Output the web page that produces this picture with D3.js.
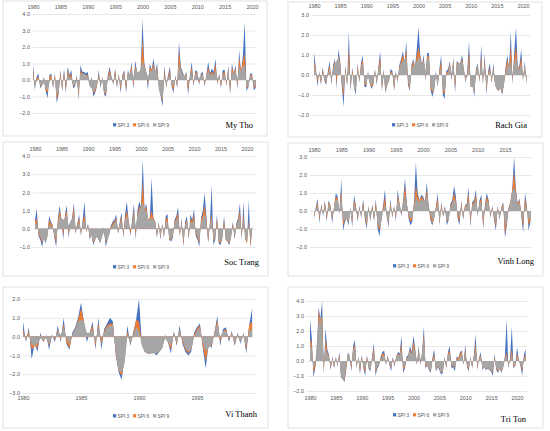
<!DOCTYPE html>
<html>
<head>
<meta charset="utf-8">
<script src="https://cdn.jsdelivr.net/npm/d3@7"></script>
<style>
  body { margin: 0; background: #fff; }
  svg { font-family: "Liberation Sans", Arial, sans-serif; }
</style>
</head>
<body>
<div id="chart"></div>
<script>
// series names and colours (Excel default palette)
const seriesNames = ["SPI 3", "SPI 6", "SPI 9"];
const seriesColors = ["#4472C4", "#ED7D31", "#A5A5A5"];

// values, one value every 4 months from Jan 1980
const myThoSpi3 = [1.0,-0.6,0.2, 0.4,-0.5,-0.3, 0.2,-0.7,-1.1, 0.3,0.4,-0.5, 0.4,-1.4,-0.9, 0.6,-0.7,0.7, -0.8,0.8,0.3, 0.6,-0.5,-0.4, 0.3,-1.2,0.9, 0.5,0.5,0.4,
  0.5,-0.3,0.2, -1.0,-0.8,-0.4, 0.6,-0.5,0.2, -0.9,-1.0,0.3, 0.8,0.2,-0.3, 0.7,-0.5,0.4, -0.8,0.3,0.6, -0.8,0.6,0.2, 1.1,-0.6,1.2, 0.5,0.3,0.6,
  3.7,1.0,0.5, -0.6,1.0,0.6, 1.3,0.5,1.0, -0.4,-1.0,-1.6, 0.9,-0.5,0.3, 0.8,-0.4,-0.8, 0.3,-0.5,2.3, 0.8,0.5,0.2, 0.5,-0.9,0.3, 1.1,-0.4,0.6,
  0.5,-0.3,0.4, 0.5,-0.4,0.3, 1.1,0.4,0.7, 0.5,1.3,-0.3, 0.4,-0.5,0.6, 0.6,-0.4,0.9, -0.9,1.0,0.4, 0.9,-0.6,1.8, 0.4,1.5,3.5, -0.7,-0.4,0.4, 0.4,-0.6,-0.5];
const myThoSpi6 = [0.6,-0.4,0.1, 0.2,-0.4,-0.3, 0.1,-0.6,-0.8, 0.2,0.3,-0.4, 0.3,-1.2,-0.8, 0.5,-0.6,0.5, -0.6,0.6,0.2, 0.4,-0.4,-0.3, 0.2,-1.0,0.6, 0.4,0.4,0.3,
  0.3,-0.3,0.1, -0.8,-0.7,-0.4, 0.4,-0.4,0.1, -0.8,-0.9,0.2, 0.6,0.2,-0.2, 0.6,-0.4,0.3, -0.6,0.2,0.5, -0.6,0.5,0.3, 0.9,-0.4,0.9, 0.5,0.4,0.6,
  2.5,0.9,0.5, -0.3,0.8,0.6, 1.0,0.5,0.8, -0.4,-0.9,-1.3, 0.6,-0.4,0.2, 0.6,-0.3,-0.6, 0.2,-0.4,1.8, 0.7,0.4,0.2, 0.4,-0.7,0.2, 0.8,-0.3,0.5,
  0.4,-0.2,0.3, 0.4,-0.3,0.2, 0.8,0.3,0.5, 0.4,1.0,-0.2, 0.3,-0.4,0.4, 0.5,-0.3,0.7, -0.7,0.8,0.4, 0.7,-0.4,1.4, 0.5,1.2,1.6, -0.5,-0.4,0.3, 0.3,-0.5,-0.4];
const myThoSpi9 = [0.3,-0.3,-0.1, 0.1,-0.3,-0.3, -0.2,-0.5,-0.6, -0.2,0.2,-0.3, 0.1,-1.0,-0.7, 0.2,-0.4,0.3, -0.3,0.4,0.1, 0.2,-0.3,-0.3, -0.1,-0.7,0.4, 0.4,0.4,0.3,
  0.2,-0.4,-0.5, -0.7,-0.6,-0.3, 0.2,-0.3,-0.1, -0.7,-0.8,0.1, 0.4,0.2,-0.1, 0.4,-0.3,0.2, -0.4,0.1,0.4, -0.3,0.4,0.4, 0.6,0.2,0.7, 0.5,0.5,0.6,
  1.2,0.8,0.5, 0.2,0.6,0.5, 0.8,0.6,0.6, -0.6,-1.0,-1.1, 0.3,-0.3,0.1, 0.4,-0.2,-0.4, 0.1,-0.3,1.0, 0.6,0.4,0.2, 0.3,-0.4,0.2, 0.5,-0.1,0.4,
  0.3,0.1,0.3, 0.3,-0.2,0.2, 0.5,0.3,0.4, 0.3,0.6,0.1, 0.2,-0.2,0.3, 0.3,-0.1,0.5, -0.4,0.5,0.4, 0.5,0.1,0.8, 0.5,0.8,0.9, -0.3,-0.5,0.2, 0.2,-0.4,-0.3];

const rachGiaSpi3 = [1.1,0.4,-0.6, 0.2,-0.5,0.4, -0.3,-0.5,0.2, 0.7,-0.5,0.5, 0.8,-0.7,1.3, 0.7,-0.6,-1.6, 0.5,-0.6,2.2, -0.8,0.4,-0.6, -1.0,0.6,-0.4, 0.6,1.0,-0.6,
  -0.6,0.2,-0.4, -0.7,-0.5,0.3, -0.5,0.4,1.2, -0.8,0.3,-0.9, -0.5,-0.3,0.3, 0.2,-0.8,0.2, -0.4,0.5,0.8, 1.2,0.6,1.7, -0.5,-0.8,0.5, 0.8,0.4,1.3,
  2.4,1.0,0.5, 1.0,-0.3,1.1, 1.1,-0.8,-1.1, -0.7,0.2,-0.6, 0.3,1.0,-1.0, -1.2,0.2,0.3, 0.7,-0.3,0.9, -0.9,0.7,0.6, 0.6,1.0,0.3, -0.4,0.2,1.7,
  -0.6,-0.4,-1.1, 0.3,0.6,-0.4, 1.5,-0.5,1.1, -1.0,0.2,0.6, -0.4,0.6,-0.5, -0.7,-0.8,-0.6, -1.0,-0.5,0.4, 1.0,0.3,2.2, -0.5,1.2,2.4, 0.3,0.5,1.3, -0.3,0.7,-0.5];
const rachGiaSpi6 = [0.7,0.3,-0.4, 0.1,-0.4,0.3, -0.3,-0.4,0.1, 0.5,-0.4,0.4, 0.7,-0.5,1.0, 0.6,-0.5,-1.1, 0.4,-0.5,1.4, -0.7,0.3,-0.5, -0.8,0.5,-0.3, 0.5,0.8,-0.5,
  -0.5,0.1,-0.4, -0.6,-0.5,0.2, -0.4,0.3,0.9, -0.7,0.2,-0.8, -0.5,-0.3,0.2, 0.1,-0.7,0.1, -0.3,0.4,0.7, 1.0,0.7,1.3, -0.4,-0.7,0.4, 0.7,0.4,1.0,
  1.4,0.9,0.5, 0.8,-0.2,1.0, 0.9,-0.7,-0.9, -0.7,0.1,-0.5, 0.2,0.7,-0.8, -1.0,0.1,0.2, 0.6,-0.2,0.8, -0.7,0.6,0.6, 0.6,0.8,0.3, -0.3,0.1,1.2,
  -0.6,-0.5,-0.9, 0.2,0.5,-0.3, 1.0,-0.4,0.8, -0.8,0.1,0.4, -0.4,0.4,-0.5, -0.7,-0.8,-0.6, -0.9,-0.5,0.3, 0.8,0.3,1.5, -0.3,0.9,1.4, 0.3,0.4,0.9, -0.2,0.5,-0.4];
const rachGiaSpi9 = [0.5,0.2,-0.2, 0.0,-0.3,0.1, -0.3,-0.3,0.0, 0.3,-0.3,0.3, 0.6,0.7,0.9, 0.5,-0.4,-0.8, 0.2,-0.4,0.7, -0.6,0.1,-0.7, -0.7,0.3,-0.2, 0.4,0.6,-0.4,
  -0.4,-0.1,-0.4, -0.5,-0.4,0.1, -0.3,0.2,0.6, -0.6,-0.1,-0.7, -0.5,-0.3,0.1, 0.1,-0.6,0.1, -0.2,0.3,0.6, 0.7,0.8,0.9, -0.3,-0.6,0.3, 0.5,0.5,0.7,
  0.9,0.8,0.5, 0.7,0.2,0.9, 0.7,-0.5,-0.8, -0.7,-0.1,-0.5, 0.1,0.4,-0.7, -0.8,0.0,0.1, 0.5,0.1,0.7, -0.5,0.5,0.6, 0.6,0.7,0.3, -0.2,-0.1,0.8,
  -0.6,-0.6,-0.9, 0.1,0.5,-0.1, 0.7,-0.2,0.6, -0.6,0.0,0.3, -0.3,0.3,-0.5, -0.7,-0.8,-0.7, -0.8,-0.5,0.1, 0.5,0.4,0.7, 0.0,0.6,0.9, 0.3,0.3,0.6, -0.1,0.4,-0.3];

const socTrangSpi3 = [0.5,1.1,-0.4, -0.6,-1.0,-0.5, -0.8,-0.4,0.7, 0.4,0.2,-0.5, -1.0,0.6,1.3, 0.4,-0.6,0.8, 1.3,-0.5,0.3, 0.6,1.4,-0.3, 0.3,0.8,-0.4, 0.5,1.5,-0.2,
  0.3,-0.6,-0.3, -0.9,-0.6,-0.4, -0.6,-0.8,-0.3, 0.1,-1.0,-0.6, -0.3,0.2,0.4, 0.5,0.8,-0.3, 0.4,0.9,-0.5, 0.8,1.5,0.4, -0.4,0.5,1.4, -0.6,1.0,1.5,
  1.2,3.8,1.0, 1.4,0.5,0.6, 2.8,0.6,0.4, -0.5,0.4,-0.6, 0.3,-0.5,0.7, 0.8,-0.6,-0.7, -0.5,0.5,0.7, 1.2,-0.4,0.6, -1.0,0.4,0.7, -0.6,0.8,0.5,
  1.1,-0.4,-0.6, -1.0,0.6,1.0, 2.0,0.7,-0.8, 0.3,2.4,-0.9, -0.6,0.8,-0.8, -0.9,-0.5,0.7, -0.6,-0.7,-0.9, -0.4,0.4,-0.6, 0.3,0.6,1.4, -0.6,1.5,-0.5, -0.8,1.6,-1.0, 0.2];
const socTrangSpi6 = [0.4,0.6,-0.3, -0.5,-0.8,-0.5, -0.7,-0.4,0.5, 0.3,0.2,-0.4, -0.8,0.5,1.0, 0.5,-0.4,0.7, 1.0,-0.3,0.3, 0.5,1.2,-0.2, 0.3,0.6,-0.3, 0.4,0.8,-0.2,
  0.2,-0.5,-0.3, -0.8,-0.6,-0.4, -0.6,-0.7,-0.3, 0.0,-0.8,-0.5, -0.3,0.1,0.3, 0.4,0.6,-0.2, 0.3,0.7,-0.4, 0.6,1.0,0.4, -0.3,0.4,1.0, -0.4,0.8,1.2,
  1.2,2.6,1.0, 1.2,0.5,0.6, 1.0,0.6,0.4, -0.4,0.3,-0.5, 0.2,-0.4,0.6, 0.6,-0.6,-0.6, -0.4,0.4,0.6, 0.9,-0.4,0.5, -0.9,0.3,0.5, -0.5,0.6,0.4,
  0.8,-0.3,-0.5, -0.8,0.5,0.8, 1.3,0.6,-0.7, 0.3,0.8,-0.7, -0.5,0.6,-0.7, -0.8,-0.5,0.5, -0.6,-0.7,-0.8, -0.4,0.3,-0.5, 0.2,0.5,1.0, -0.5,0.9,-0.6, -0.8,0.5,-1.0, 0.1];
const socTrangSpi9 = [0.3,0.3,-0.2, -0.4,-0.7,-0.6, -0.7,-0.4,0.2, 0.2,0.1,-0.3, -0.6,0.3,0.7, 0.6,0.5,0.6, 0.8,0.2,0.4, 0.5,0.8,0.1, 0.2,0.4,-0.2, 0.3,0.5,-0.1,
  0.1,-0.4,-0.4, -0.7,-0.6,-0.4, -0.6,-0.7,-0.4, -0.2,-0.7,-0.5, -0.3,0.0,0.2, 0.3,0.5,0.0, 0.2,0.5,-0.2, 0.4,0.7,0.4, 0.0,0.3,0.8, 0.2,0.7,1.0,
  1.2,1.5,1.0, 1.0,0.5,0.5, 0.6,0.5,0.4, -0.3,0.2,-0.4, 0.1,-0.3,0.4, 0.4,-0.5,-0.6, -0.3,0.3,0.5, 0.6,-0.3,0.4, -0.7,0.2,0.4, -0.3,0.4,0.3,
  0.5,-0.2,-0.4, -0.7,0.3,0.6, 0.8,0.5,-0.5, 0.2,0.6,-0.6, -0.5,0.4,-0.6, -0.7,-0.5,0.3, -0.6,-0.7,-0.7, -0.4,0.1,-0.4, 0.1,0.4,0.7, -0.4,0.6,-0.6, -0.7,0.3,-0.8, 0.0];

const vinhLongSpi3 = [-0.4,0.2,0.7, -0.7,0.4,-0.3, 0.6,-0.6,0.6, 0.3,-0.7,0.2, 1.0,0.8,-0.2, 1.8,-1.1,-0.6, -0.4,-0.8,0.2, -0.9,0.9,0.3, -0.6,0.3,-0.4, 0.7,-0.5,-1.0,
  0.3,-0.6,0.4, -0.6,0.7,-1.0, -1.4,-0.5,0.3, 1.2,-0.3,-0.9, 0.7,-0.4,0.3, -0.6,1.2,0.4, -0.3,0.6,1.8, 0.5,-0.4,-0.8, -0.6,0.5,2.7, 1.0,0.6,0.9,
  0.8,0.5,1.6, 0.3,-0.5,-0.8, -0.4,0.2,1.0, -0.8,0.5,-0.3, 0.3,-0.8,-0.5, 0.4,0.6,1.4, 0.8,-0.4,-0.8, 0.6,-0.5,0.3, 0.4,1.3,-0.9, 0.5,0.6,1.2,
  -0.3,0.6,0.9, -1.0,0.4,1.0, 0.6,-0.4,0.3, -0.5,-1.1,0.3, -0.5,0.2,0.5, -1.5,-0.8,0.2, 0.5,1.2,3.0, 1.2,0.4,0.7, -0.3,-1.2,1.0, 0.3,-1.1,-0.6];
const vinhLongSpi6 = [-0.3,0.1,0.5, -0.5,0.3,-0.2, 0.5,-0.5,0.5, 0.3,-0.5,0.2, 0.8,0.7,-0.1, 1.2,-0.8,-0.5, -0.4,-0.6,0.1, -0.7,0.6,0.3, -0.5,0.2,-0.3, 0.5,-0.4,-0.8,
  0.2,-0.5,0.3, -0.5,0.5,-0.8, -1.1,-0.5,0.2, 0.8,-0.3,-0.7, 0.5,-0.3,0.2, -0.4,0.9,0.4, -0.2,0.5,1.4, 0.4,-0.3,-0.6, -0.5,0.4,1.4, 0.8,0.6,0.8,
  0.7,0.5,1.2, 0.3,-0.4,-0.7, -0.4,0.2,0.7, -0.7,0.4,-0.3, 0.2,-0.6,-0.5, 0.3,0.5,1.0, 0.6,-0.3,-0.6, 0.5,-0.4,0.3, 0.3,1.0,-0.7, 0.4,0.5,0.9,
  -0.2,0.5,0.7, -0.8,0.3,0.8, 0.5,-0.3,0.2, -0.4,-0.9,0.2, -0.4,0.2,0.4, -1.3,-0.7,0.2, 0.5,1.2,2.2, 1.0,0.4,0.6, -0.2,-0.9,0.7, 0.2,-0.8,-0.5];
const vinhLongSpi9 = [-0.2,0.1,0.3, -0.3,0.2,-0.1, 0.3,-0.3,0.4, 0.2,-0.4,0.2, 0.6,0.6,0.1, 0.8,-0.5,-0.5, -0.4,-0.5,0.0, -0.5,0.4,0.2, -0.4,0.1,-0.3, 0.3,-0.3,-0.6,
  0.0,-0.5,0.1, -0.4,0.2,-0.7, -0.9,-0.6,0.0, 0.4,-0.3,-0.6, 0.3,-0.2,0.1, -0.2,0.6,0.4, 0.0,0.4,0.9, 0.4,-0.2,-0.4, -0.4,0.2,0.8, 0.6,0.5,0.7,
  0.6,0.5,0.9, 0.3,-0.2,-0.5, -0.4,0.1,0.4, -0.6,0.2,-0.3, 0.0,-0.5,-0.5, 0.2,0.4,0.7, 0.5,-0.1,-0.4, 0.3,-0.3,0.2, 0.3,0.6,-0.4, 0.3,0.4,0.6,
  0.0,0.4,0.5, -0.5,0.2,0.6, 0.4,-0.2,0.1, -0.3,-0.7,0.0, -0.3,0.1,0.3, -0.9,-0.6,0.1, 0.5,1.1,1.3, 0.9,0.4,0.4, -0.1,-0.6,0.4, 0.1,-0.5,-0.4];

// Vi Thanh is read every 3 months (Jan, Apr, Jul, Oct) 1980-1999
const viThanhSpi3 = [0.8,-0.3,0.5,-1.2, -0.4,-0.8,0.2,-0.3, 0.1,-0.7,0.1,-0.3, 0.6,-0.3,1.0,-0.4, -0.7,0.2,0.5,1.0, 1.8,0.8,-0.3,0.2, 0.8,-0.7,1.0,-0.7, 0.4,0.7,1.0,0.8,
  -1.0,-1.9,-2.3,-1.2, 0.6,-0.5,0.2,0.9, 2.0,-0.4,-0.8,-0.9, -0.9,-0.8,-1.0,-0.8, -0.6,0.1,-0.3,-0.9, 0.3,-0.5,0.6,-0.4, -0.8,-1.0,-0.8,0.2, 0.5,0.7,-0.6,-1.7,
  -0.4,-0.6,0.2,1.1, -0.5,0.4,0.5,-0.3, 0.3,-0.5,0.2,-0.4, 0.2,-0.9,0.6,1.5];
const viThanhSpi6 = [0.4,-0.2,0.3,-0.7, -0.5,-0.6,0.1,-0.3, 0.0,-0.5,0.1,-0.2, 0.4,-0.2,0.7,-0.3, -0.6,0.1,0.4,0.9, 1.5,0.8,-0.1,0.2, 0.6,-0.5,0.7,-0.4, 0.3,0.6,0.7,0.7,
  -0.9,-1.8,-2.1,-1.3, 0.3,-0.4,0.1,0.9, 0.8,-0.4,-0.8,-0.9, -0.9,-0.8,-0.9,-0.8, -0.6,0.0,-0.3,-0.7, 0.2,-0.4,0.4,-0.3, -0.7,-0.9,-0.7,0.1, 0.4,0.6,-0.5,-1.3,
  -0.5,-0.5,0.2,0.9, -0.3,0.3,0.4,-0.2, 0.2,-0.4,0.1,-0.3, 0.1,-0.7,0.6,0.8];
const viThanhSpi9 = [0.2,-0.1,0.1,-0.4, -0.5,-0.4,-0.1,-0.2, -0.1,-0.4,0.0,-0.1, 0.3,0.1,0.5,-0.1, -0.4,0.1,0.4,0.8, 0.9,0.8,0.2,0.2, 0.4,-0.3,0.5,-0.1, 0.2,0.5,0.6,0.6,
  -0.8,-1.8,-1.9,-1.4, 0.0,-0.3,0.0,0.5, 0.3,-0.5,-0.8,-0.9, -0.9,-0.9,-0.9,-0.8, -0.6,-0.1,-0.3,-0.5, 0.1,-0.3,0.3,-0.2, -0.6,-0.8,-0.7,0.0, 0.3,0.5,-0.3,-0.8,
  -0.6,-0.4,0.2,0.7, 0.0,0.3,0.3,-0.1, 0.1,-0.3,0.0,-0.3, 0.0,-0.5,0.3,0.4];

const triTonSpi3 = [2.8,1.6,-1.1, -0.5,0.6,3.6, 2.8,4.0,-0.9, 2.2,0.8,0.4, -0.6,0.3,-0.5, 0.3,-0.4,0.6, -1.1,-1.2,-1.4, -0.6,0.6,0.3, -0.7,1.0,1.4, -0.5,0.3,-0.9,
  0.4,-0.5,-1.0, 0.4,-0.5,-0.7, 0.3,1.2,-1.0, -0.5,-0.3,0.3, 0.6,0.7,-0.3, 0.4,-0.2,-0.7, 0.3,-0.4,0.3, 0.6,0.5,1.7, -0.8,-0.5,0.3, 0.4,1.0,0.6,
  1.7,0.8,-0.3, 1.0,-0.3,0.6, 2.3,-0.5,-0.3, -0.6,-0.8,0.2, 0.8,-0.7,-0.4, -0.6,-0.9,-0.8, 0.3,-0.5,0.6, 1.0,-0.5,-0.4, -0.7,0.3,0.2, 0.6,0.7,-0.3,
  1.1,-0.4,-0.7, 0.3,-0.5,0.4, 1.8,-0.6,0.2, 0.6,-0.6,-0.4, -0.6,-0.5,-0.6, -0.7,-1.0,0.5, -0.6,-0.8,-0.5, -0.8,-0.4,0.3, 2.8,-0.5,0.2, 2.3,-0.5,-0.3, 0.9,0.1,-0.3, -1.0,0.4,0.8];
const triTonSpi6 = [1.5,1.2,-0.8, -0.4,0.6,3.4, 2.7,3.0,-0.7, 1.5,0.6,0.3, -0.5,0.2,-0.4, 0.2,-0.3,0.5, -1.0,-1.2,-1.3, -0.5,0.5,0.3, -0.5,0.8,1.1, -0.4,0.2,-0.7,
  0.3,-0.4,-0.8, 0.3,-0.4,-0.6, 0.2,0.9,-0.8, -0.4,-0.2,0.2, 0.5,0.5,-0.2, 0.3,-0.2,-0.5, 0.2,-0.3,0.3, 0.5,0.4,1.2, -0.6,-0.4,0.2, 0.3,0.8,0.5,
  1.3,0.7,-0.2, 0.8,-0.2,0.5, 1.8,-0.4,-0.3, -0.5,-0.7,0.1, 0.5,-0.6,-0.4, -0.5,-0.8,-0.7, 0.2,-0.4,0.5, 0.7,-0.4,-0.3, -0.5,0.2,0.2, 0.5,0.6,-0.2,
  0.8,-0.3,-0.6, 0.2,-0.4,0.3, 1.2,-0.5,0.2, 0.4,-0.5,-0.4, -0.5,-0.5,-0.6, -0.6,-0.8,0.3, -0.5,-0.7,-0.5, -0.7,-0.4,0.2, 0.6,-0.4,0.1, 0.8,-0.4,-0.3, 0.5,0.1,-0.2, -0.7,0.2,0.5];
const triTonSpi9 = [1.3,0.8,-0.5, -0.2,1.3,2.6, 3.0,2.2,-0.3, 0.9,0.5,0.2, -0.3,0.1,-0.3, 0.1,-0.3,0.3, -1.0,-1.2,-1.2, -0.3,0.5,0.3, -0.3,0.7,0.9, -0.3,0.1,-0.5,
  0.2,-0.3,-0.6, 0.1,-0.4,-0.5, 0.1,0.6,-0.6, -0.4,-0.2,0.1, 0.3,0.4,-0.1, 0.2,-0.2,-0.4, 0.1,-0.2,0.3, 0.4,0.4,0.8, -0.4,-0.3,0.1, 0.3,0.6,0.5,
  0.9,0.6,0.0, 0.6,0.1,0.5, 1.5,-0.2,-0.3, -0.5,-0.6,0.0, 0.3,-0.5,-0.4, -0.5,-0.8,-0.6, 0.1,-0.3,0.4, 0.5,-0.3,-0.3, -0.4,0.1,0.1, 0.3,0.5,-0.1,
  0.6,-0.2,-0.5, 0.1,-0.3,0.2, 0.8,-0.3,0.1, 0.3,-0.5,-0.4, -0.5,-0.5,-0.6, -0.6,-0.7,0.1, -0.5,-0.6,-0.5, -0.6,-0.4,0.1, 0.4,-0.3,0.0, 0.5,-0.3,-0.2, 0.3,0.0,-0.2, -0.5,0.1,0.3];

// tick labels
const yearTicksTo2020 = [1980, 1985, 1990, 1995, 2000, 2005, 2010, 2015, 2020];
const yearTicksTo2015 = [1980, 1985, 1990, 1995, 2000, 2005, 2010, 2015];
const yearTicksTo1995 = [1980, 1985, 1990, 1995];

// panel layout (pixels in the 550x431 page)
const panels = [
  { name: "My Tho", data: [myThoSpi3, myThoSpi6, myThoSpi9], perYear: 3, ticks: yearTicksTo2020,
    box: [3, 1, 267, 136], grid: [33, 255], xr: [33, 252], yDom: [-2, 4], yr: [113, 14],
    axis: "top", axisY: 9, legend: [113, 125], label: [253, 128] },
  { name: "Rach Gia", data: [rachGiaSpi3, rachGiaSpi6, rachGiaSpi9], perYear: 3, ticks: yearTicksTo2020,
    box: [288, 2, 542, 137], grid: [312, 530], xr: [314, 523], yDom: [-2, 3], yr: [115, 15],
    axis: "top", axisY: 8, legend: [392, 125], label: [527, 128] },
  { name: "Soc Trang", data: [socTrangSpi3, socTrangSpi6, socTrangSpi9], perYear: 3, ticks: yearTicksTo2020,
    box: [3, 142, 268, 276], grid: [33, 256], xr: [35, 247], yDom: [-1, 4], yr: [247, 156],
    axis: "top", axisY: 151, legend: [113, 267], label: [259, 265] },
  { name: "Vinh Long", data: [vinhLongSpi3, vinhLongSpi6, vinhLongSpi9], perYear: 3, ticks: yearTicksTo2015,
    box: [288, 143, 543, 276], grid: [310, 532], xr: [314, 505], yDom: [-2, 3], yr: [247, 157],
    axis: "top", axisY: 152, legend: [393, 266], label: [534, 264] },
  { name: "Vi Thanh", data: [viThanhSpi3, viThanhSpi6, viThanhSpi9], perYear: 4, ticks: yearTicksTo1995,
    box: [3, 287, 268, 428], grid: [23, 255], xr: [23, 197], yDom: [-3, 2], yr: [393, 299],
    axis: "bottom", axisY: 396, legend: [113, 416], label: [257, 417] },
  { name: "Tri Ton", data: [triTonSpi3, triTonSpi6, triTonSpi9], perYear: 3, ticks: yearTicksTo2020,
    box: [288, 287, 543, 428], grid: [307, 527], xr: [310, 517], yDom: [-2, 4], yr: [391, 301],
    axis: "bottom", axisY: 396, legend: [393, 415], label: [526, 422] }
];

const svg = d3.select("#chart").append("svg")
  .attr("width", 550)
  .attr("height", 431);

const drawPanel = (p) => {
  const g = svg.append("g");

  // chart frame
  g.append("rect")
    .attr("x", p.box[0]).attr("y", p.box[1])
    .attr("width", p.box[2] - p.box[0]).attr("height", p.box[3] - p.box[1])
    .attr("fill", "#fff")
    .attr("stroke", "#d9d9d9")
    .attr("stroke-width", 0.8);

  const tickEnd = p.ticks[p.ticks.length - 1];
  const x = d3.scaleLinear().domain([1980, tickEnd]).range(p.xr);
  const y = d3.scaleLinear().domain(p.yDom).range(p.yr);
  const yTicks = d3.range(p.yDom[0], p.yDom[1] + 0.5, 1);

  // gridlines + value labels
  const yAxis = g.append("g")
    .attr("transform", `translate(${p.grid[0]},0)`)
    .call(d3.axisLeft(y)
      .tickValues(yTicks)
      .tickFormat(d3.format(".1f"))
      .tickSize(-(p.grid[1] - p.grid[0]))
      .tickPadding(3));
  yAxis.select(".domain").remove();
  yAxis.selectAll("line").attr("stroke", "#d9d9d9").attr("stroke-width", 0.6);
  yAxis.selectAll("text")
    .attr("fill", "#595959")
    .attr("font-size", 5.5)
    .attr("font-family", "Liberation Sans, Arial, sans-serif");

  // areas: SPI 3 behind, SPI 9 in front
  p.data.forEach((vals, k) => {
    const area = d3.area()
      .x((d, i) => x(1980 + i / p.perYear))
      .y0(y(0))
      .y1((d) => y(d));
    g.append("path")
      .datum(vals)
      .attr("d", area)
      .attr("fill", seriesColors[k]);
  });

  // year labels
  const xAxisGen = p.axis === "top" ? d3.axisTop(x) : d3.axisBottom(x);
  const xAxis = g.append("g")
    .attr("transform", `translate(0,${p.axisY})`)
    .call(xAxisGen.tickValues(p.ticks).tickFormat(d3.format("d")).tickSize(0).tickPadding(0));
  xAxis.select(".domain").remove();
  xAxis.selectAll("text")
    .attr("fill", "#595959")
    .attr("font-size", 5.5)
    .attr("font-family", "Liberation Sans, Arial, sans-serif");

  // legend
  const legend = g.append("g").attr("transform", `translate(${p.legend[0]},${p.legend[1]})`);
  seriesNames.forEach((name, k) => {
    const item = legend.append("g").attr("transform", `translate(${k * 20},0)`);
    item.append("rect")
      .attr("x", 0).attr("y", -1.8)
      .attr("width", 3.2).attr("height", 3.2)
      .attr("fill", seriesColors[k]);
    item.append("text")
      .attr("x", 4.5).attr("y", 1.6)
      .attr("font-size", 4.8)
      .attr("fill", "#595959")
      .text(name);
  });

  // station name
  g.append("text")
    .attr("x", p.label[0]).attr("y", p.label[1])
    .attr("text-anchor", "end")
    .attr("font-family", "Liberation Serif, Times New Roman, serif")
    .attr("font-size", 8.5)
    .attr("fill", "#000")
    .text(p.name);
};

panels.forEach(drawPanel);
</script>
</body>
</html>
